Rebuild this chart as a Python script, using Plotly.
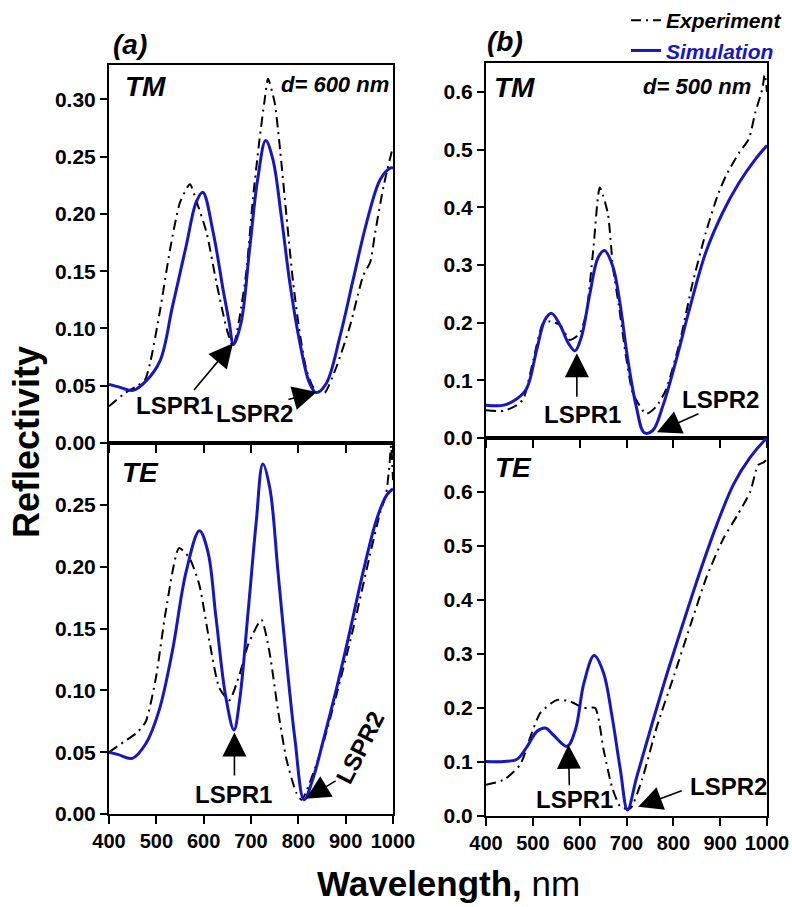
import plotly.graph_objects as go

# ---------------- (a) d = 600 nm ----------------
a_tm_sim_wl = [400, 420, 451, 478, 508, 534, 563, 584, 598, 620, 641, 654, 663, 679, 697, 714, 731, 746, 764, 782, 803, 824, 838, 859, 888, 916, 944, 973, 994, 1000]
a_tm_sim_r = [0.051, 0.049, 0.046, 0.054, 0.072, 0.119, 0.172, 0.210, 0.219, 0.184, 0.134, 0.105, 0.086, 0.105, 0.169, 0.230, 0.264, 0.248, 0.198, 0.140, 0.088, 0.052, 0.044, 0.052, 0.093, 0.143, 0.192, 0.230, 0.240, 0.240]

a_tm_exp_wl = [400, 435, 460, 476, 487, 508, 529, 550, 571, 584, 606, 627, 649, 662, 676, 690, 704, 718, 729, 736, 750, 760, 775, 789, 803, 817, 831, 845, 856, 881, 909, 937, 952, 962, 980, 1000]
a_tm_exp_r = [0.032, 0.044, 0.050, 0.055, 0.070, 0.116, 0.169, 0.210, 0.226, 0.212, 0.184, 0.140, 0.099, 0.084, 0.110, 0.149, 0.213, 0.265, 0.300, 0.318, 0.297, 0.262, 0.198, 0.140, 0.096, 0.064, 0.049, 0.045, 0.044, 0.067, 0.102, 0.146, 0.158, 0.183, 0.224, 0.259]

a_te_sim_wl = [400, 420, 449, 478, 506, 534, 563, 591, 609, 626, 647, 664, 676, 694, 711, 725, 740, 757, 775, 793, 812, 832, 853, 881, 909, 937, 966, 987, 1000]
a_te_sim_r = [0.050, 0.048, 0.045, 0.057, 0.084, 0.132, 0.196, 0.229, 0.212, 0.159, 0.094, 0.068, 0.092, 0.164, 0.236, 0.283, 0.263, 0.196, 0.124, 0.060, 0.0115, 0.030, 0.060, 0.102, 0.148, 0.196, 0.239, 0.258, 0.263]

a_te_exp_wl = [400, 430, 460, 478, 499, 520, 548, 570, 591, 612, 633, 654, 676, 694, 722, 739, 757, 775, 796, 807, 846, 881, 916, 951, 973, 985, 992, 996, 1000]
a_te_exp_r = [0.050, 0.058, 0.066, 0.075, 0.110, 0.164, 0.215, 0.207, 0.185, 0.140, 0.102, 0.092, 0.113, 0.137, 0.157, 0.131, 0.084, 0.044, 0.017, 0.0115, 0.049, 0.097, 0.150, 0.209, 0.244, 0.258, 0.280, 0.298, 0.270]

# ---------------- (b) d = 500 nm ----------------
b_tm_sim_wl = [400, 438, 466, 487, 508, 526, 540, 558, 576, 590, 604, 622, 639, 653, 671, 685, 703, 721, 738, 756, 777, 806, 834, 869, 905, 940, 975, 1000]
b_tm_sim_r = [0.057, 0.057, 0.068, 0.086, 0.152, 0.205, 0.216, 0.196, 0.164, 0.151, 0.176, 0.251, 0.312, 0.325, 0.297, 0.239, 0.135, 0.054, 0.009, 0.013, 0.054, 0.135, 0.222, 0.321, 0.390, 0.442, 0.483, 0.507]

b_tm_exp_wl = [400, 438, 466, 480, 501, 522, 537, 558, 579, 600, 614, 629, 643, 660, 671, 685, 699, 714, 742, 763, 784, 813, 841, 869, 894, 912, 940, 961, 975, 990, 995, 1000]
b_tm_exp_r = [0.048, 0.047, 0.057, 0.068, 0.135, 0.199, 0.202, 0.196, 0.170, 0.181, 0.216, 0.326, 0.434, 0.390, 0.297, 0.222, 0.141, 0.077, 0.042, 0.054, 0.083, 0.164, 0.268, 0.355, 0.419, 0.454, 0.494, 0.518, 0.564, 0.605, 0.630, 0.600]

b_te_sim_wl = [400, 438, 466, 488, 509, 527, 544, 573, 591, 609, 631, 651, 669, 687, 702, 722, 751, 786, 822, 858, 893, 929, 964, 996, 1000]
b_te_sim_r = [0.101, 0.101, 0.105, 0.129, 0.157, 0.163, 0.150, 0.129, 0.160, 0.246, 0.297, 0.265, 0.185, 0.085, 0.011, 0.073, 0.160, 0.262, 0.360, 0.455, 0.540, 0.615, 0.664, 0.697, 0.700]

b_te_exp_wl = [400, 438, 473, 495, 516, 552, 580, 609, 633, 651, 669, 687, 708, 733, 765, 801, 836, 872, 907, 936, 964, 981, 993, 1000]
b_te_exp_r = [0.058, 0.067, 0.095, 0.147, 0.191, 0.215, 0.212, 0.200, 0.200, 0.123, 0.054, 0.017, 0.014, 0.067, 0.166, 0.259, 0.352, 0.445, 0.514, 0.556, 0.600, 0.650, 0.655, 0.660]

x_ticks = [400, 500, 600, 700, 800, 900, 1000]
a_tm_yticks = [0.00, 0.05, 0.10, 0.15, 0.20, 0.25, 0.30]
a_te_yticks = [0.00, 0.05, 0.10, 0.15, 0.20, 0.25]
b_tm_yticks = [0.0, 0.1, 0.2, 0.3, 0.4, 0.5, 0.6]
b_te_yticks = [0.0, 0.1, 0.2, 0.3, 0.4, 0.5, 0.6]

FONT = "Liberation Sans, Arial, sans-serif"
SIM_COLOR = "#1616c4"
EXP_DASH = "10px,5px,2px,5px"

fig = go.Figure()

panels = [
    ("x", "y", a_tm_exp_wl, a_tm_exp_r, a_tm_sim_wl, a_tm_sim_r, True),
    ("x2", "y2", a_te_exp_wl, a_te_exp_r, a_te_sim_wl, a_te_sim_r, False),
    ("x3", "y3", b_tm_exp_wl, b_tm_exp_r, b_tm_sim_wl, b_tm_sim_r, False),
    ("x4", "y4", b_te_exp_wl, b_te_exp_r, b_te_sim_wl, b_te_sim_r, False),
]
for xa, ya, ewl, er, swl, sr, show in panels:
    fig.add_trace(go.Scatter(
        x=ewl, y=er, xaxis=xa, yaxis=ya, mode="lines", name="Experiment",
        line=dict(color="black", width=2, dash=EXP_DASH, shape="spline", smoothing=0.6),
        showlegend=show, legendrank=1))
    fig.add_trace(go.Scatter(
        x=swl, y=sr, xaxis=xa, yaxis=ya, mode="lines",
        name=f"<span style='color:{SIM_COLOR}'>Simulation</span>",
        line=dict(color=SIM_COLOR, width=3, shape="spline", smoothing=1.0),
        showlegend=show, legendrank=2))

tickfont = dict(family=FONT, size=20, color="black", weight="bold")
ytickfont = dict(family=FONT, size=21, color="black", weight="bold")


def xaxis(domain, anchor, labels):
    return dict(domain=domain, anchor=anchor, range=[400, 1000], tickvals=x_ticks,
                showticklabels=labels, ticks="outside", ticklen=8, tickwidth=2, tickcolor="black",
                showline=True, mirror=True, linewidth=2, linecolor="black",
                showgrid=False, zeroline=False, tickfont=tickfont, automargin=False)


def yaxis(domain, anchor, rng, vals, fmt):
    return dict(domain=domain, anchor=anchor, range=rng, tickvals=vals, tickformat=fmt,
                ticks="outside", ticklen=7, tickwidth=2, tickcolor="black",
                showline=True, mirror=True, linewidth=2, linecolor="black",
                showgrid=False, zeroline=False, tickfont=ytickfont, automargin=False)


L = [109 / 792, 393 / 792]
R = [486 / 792, 767 / 792]
L_TOP = [1 - 443 / 907, 1 - 65 / 907]
L_BOT = [1 - 814 / 907, 1 - 443 / 907]
R_TOP = [1 - 438 / 907, 1 - 63 / 907]
R_BOT = [1 - 816 / 907, 1 - 438 / 907]

annotations = []


def paper_text(text, x, y, size, xanchor="center", italic=True, bold=True, angle=0, color="black"):
    annotations.append(dict(
        text=text, xref="paper", yref="paper", x=x / 792, y=1 - y / 907,
        xanchor=xanchor, yanchor="middle", showarrow=False, textangle=angle,
        font=dict(family=FONT, size=size, color=color,
                  weight="bold" if bold else "normal",
                  style="italic" if italic else "normal")))


paper_text("(a)", 130, 44, 28)
paper_text("(b)", 505, 41, 28)
paper_text("TM", 123, 86, 28, xanchor="left")
paper_text("TM", 492, 88, 28, xanchor="left")
paper_text("TE", 120, 473, 28, xanchor="left")
paper_text("TE", 493, 467, 28, xanchor="left")
paper_text("d= 600 nm", 391, 84, 22, xanchor="right")
paper_text("d= 500 nm", 753, 86, 22, xanchor="right")
paper_text("Reflectivity", 26, 442, 36, italic=False, angle=-90)
paper_text("<b>Wavelength,</b> nm", 448, 883, 35, italic=False, bold=False)


def lspr_text(xa, ya, text, x, y, angle=0):
    annotations.append(dict(
        text=text, xref=xa, yref=ya, x=x, y=y, showarrow=False, textangle=angle,
        xanchor="center", yanchor="middle",
        font=dict(family=FONT, size=24, color="black", weight="bold")))


def lspr_arrow(xa, ya, head, tail):
    annotations.append(dict(
        text="", xref=xa, yref=ya, x=head[0], y=head[1],
        axref=xa, ayref=ya, ax=tail[0], ay=tail[1], showarrow=True,
        arrowhead=2, arrowsize=3.0, arrowwidth=1.6, arrowcolor="black", standoff=0))


# (a) TM
lspr_text("x", "y", "LSPR1", 539, 0.033)
lspr_arrow("x", "y", (662, 0.087), (577, 0.045))
lspr_text("x", "y", "LSPR2", 708, 0.026)
lspr_arrow("x", "y", (839, 0.0446), (776, 0.0376))
# (a) TE
lspr_text("x2", "y2", "LSPR1", 662, 0.0155)
lspr_arrow("x2", "y2", (665, 0.066), (665, 0.030))
lspr_text("x2", "y2", "LSPR2", 930, 0.054, angle=-63)
lspr_arrow("x2", "y2", (816, 0.0123), (882, 0.0275))
# (b) TM
lspr_text("x3", "y3", "LSPR1", 605, 0.040)
lspr_arrow("x3", "y3", (594, 0.147), (594, 0.069))
lspr_text("x3", "y3", "LSPR2", 900, 0.066)
lspr_arrow("x3", "y3", (765, 0.010), (857, 0.043))
# (b) TE
lspr_text("x4", "y4", "LSPR1", 590, 0.030)
lspr_arrow("x4", "y4", (576, 0.132), (578, 0.054))
lspr_text("x4", "y4", "LSPR2", 917, 0.054)
lspr_arrow("x4", "y4", (725, 0.017), (821, 0.048))

fig.update_layout(
    width=792, height=907,
    margin=dict(l=0, r=0, t=0, b=0, autoexpand=False),
    paper_bgcolor="white", plot_bgcolor="white",
    xaxis=xaxis(L, "y", False),
    yaxis=yaxis(L_TOP, "x", [0, 0.33], a_tm_yticks, ".2f"),
    xaxis2=xaxis(L, "y2", True),
    yaxis2=yaxis(L_BOT, "x2", [0, 0.30], a_te_yticks, ".2f"),
    xaxis3=xaxis(R, "y3", False),
    yaxis3=yaxis(R_TOP, "x3", [0, 0.65], b_tm_yticks, ".1f"),
    xaxis4=xaxis(R, "y4", True),
    yaxis4=yaxis(R_BOT, "x4", [0, 0.70], b_te_yticks, ".1f"),
    legend=dict(x=626 / 792, y=1.0, xanchor="left", yanchor="top",
                bgcolor="rgba(0,0,0,0)", borderwidth=0, tracegroupgap=0,
                font=dict(family=FONT, size=21, color="black", weight="bold", style="italic")),
    annotations=annotations,
)

fig.write_html("out.html")
